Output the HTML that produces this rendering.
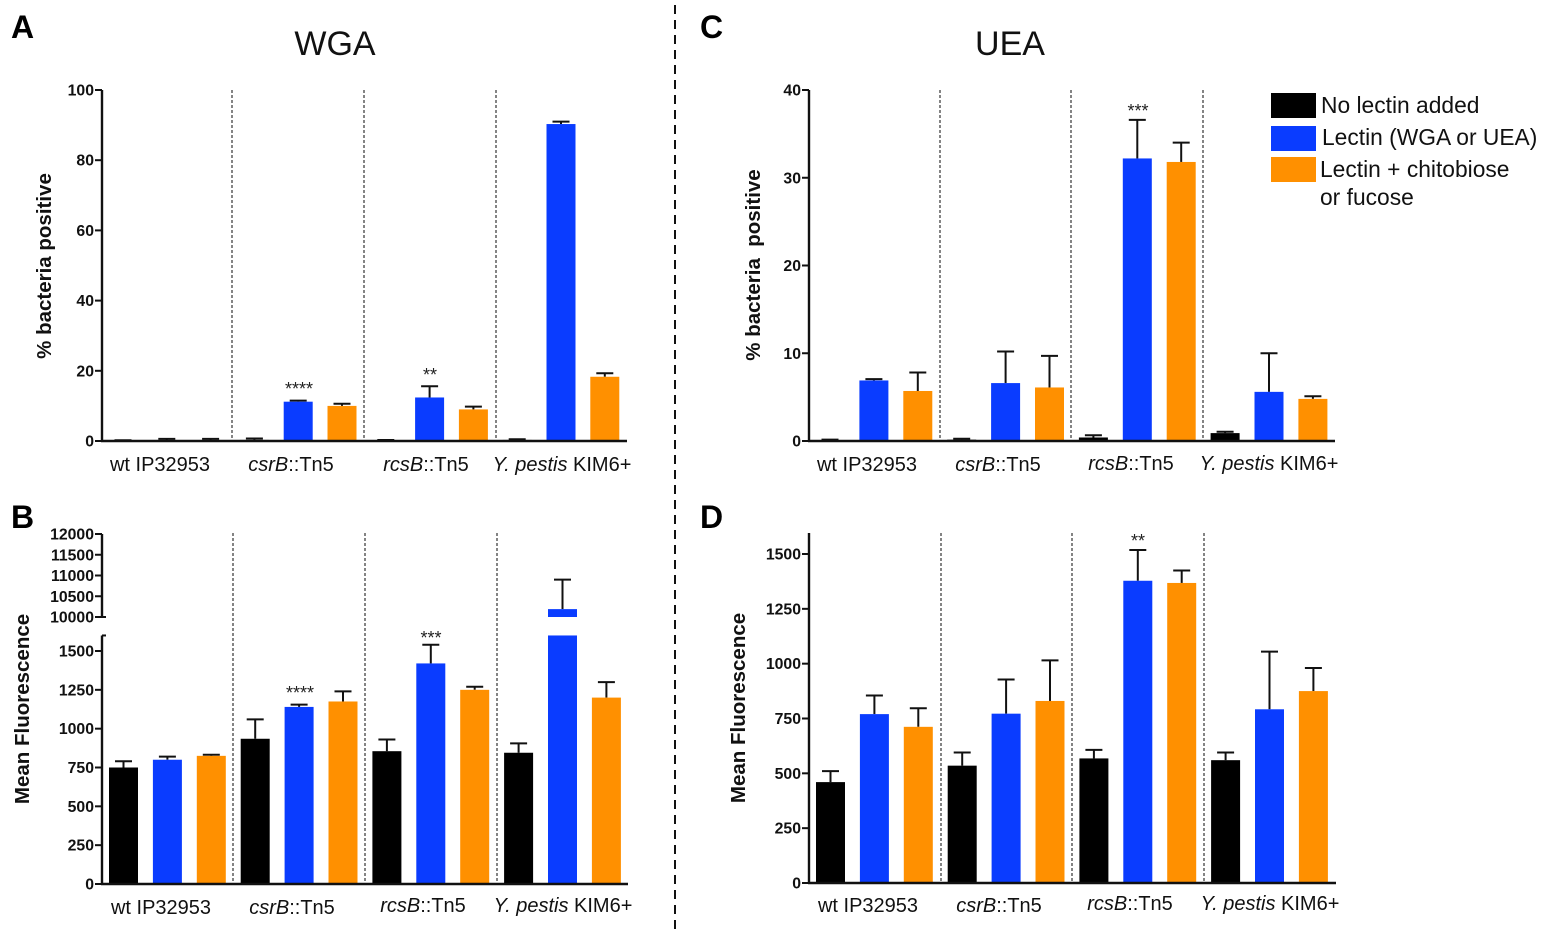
<!DOCTYPE html>
<html lang="en">
<head>
<meta charset="utf-8">
<title>Lectin binding charts</title>
<style>
html,body{margin:0;padding:0;background:#fff;}
svg{display:block;font-family:"Liberation Sans",Arial,sans-serif;}
.tick{font-size:15.8px;font-weight:bold;text-anchor:end;fill:#111;}
.group{font-size:20px;text-anchor:middle;fill:#111;}
.ytitle{font-size:20.5px;font-weight:bold;text-anchor:middle;fill:#111;}
.letter{font-size:32px;font-weight:bold;fill:#000;}
.title{font-size:34px;text-anchor:middle;fill:#111;}
.star{font-size:18px;text-anchor:middle;fill:#222;}
.legend{font-size:22.8px;fill:#111;}
</style>
</head>
<body>
<svg id="fig" xmlns="http://www.w3.org/2000/svg" width="1547" height="935" viewBox="0 0 1547 935">
  <rect width="1547" height="935" fill="#fff"/>
  <line x1="675" y1="5" x2="675" y2="930" stroke="#111" stroke-width="2" stroke-dasharray="9 6"/>

  <text class="letter" x="11" y="38">A</text>
  <text class="letter" x="11" y="528">B</text>
  <text class="letter" x="700" y="38">C</text>
  <text class="letter" x="700" y="528">D</text>
  <text class="title" x="335" y="55">WGA</text>
  <text class="title" x="1010" y="55">UEA</text>

  <text class="ytitle" transform="translate(51,266) rotate(-90)">% bacteria positive</text>
  <text class="ytitle" transform="translate(29,709) rotate(-90)">Mean Fluorescence</text>
  <text class="ytitle" xml:space="preserve" transform="translate(760,265) rotate(-90)">% bacteria  positive</text>
  <text class="ytitle" transform="translate(745,708) rotate(-90)">Mean Fluorescence</text>

  <g>
    <text class="group" x="160" y="471">wt IP32953</text>
    <text class="group" x="291" y="471"><tspan font-style="italic">csrB</tspan>::Tn5</text>
    <text class="group" x="426" y="471"><tspan font-style="italic">rcsB</tspan>::Tn5</text>
    <text class="group" x="562" y="471"><tspan font-style="italic">Y. pestis</tspan> KIM6+</text>
  </g>
  <g>
    <text class="group" x="161" y="914">wt IP32953</text>
    <text class="group" x="292" y="914"><tspan font-style="italic">csrB</tspan>::Tn5</text>
    <text class="group" x="423" y="912"><tspan font-style="italic">rcsB</tspan>::Tn5</text>
    <text class="group" x="563" y="912"><tspan font-style="italic">Y. pestis</tspan> KIM6+</text>
  </g>
  <g>
    <text class="group" x="867" y="471">wt IP32953</text>
    <text class="group" x="998" y="471"><tspan font-style="italic">csrB</tspan>::Tn5</text>
    <text class="group" x="1131" y="470"><tspan font-style="italic">rcsB</tspan>::Tn5</text>
    <text class="group" x="1269" y="470"><tspan font-style="italic">Y. pestis</tspan> KIM6+</text>
  </g>
  <g>
    <text class="group" x="868" y="912">wt IP32953</text>
    <text class="group" x="999" y="912"><tspan font-style="italic">csrB</tspan>::Tn5</text>
    <text class="group" x="1130" y="910"><tspan font-style="italic">rcsB</tspan>::Tn5</text>
    <text class="group" x="1270" y="910"><tspan font-style="italic">Y. pestis</tspan> KIM6+</text>
  </g>

  <text class="star" x="299" y="395">****</text>
  <text class="star" x="430" y="381">**</text>
  <text class="star" x="300" y="699">****</text>
  <text class="star" x="431" y="644">***</text>
  <text class="star" x="1138" y="117">***</text>
  <text class="star" x="1138" y="547">**</text>

  <g>
    <rect x="1271" y="93" width="45" height="25" fill="#000"/>
    <rect x="1271" y="126" width="45" height="25" fill="#0a3cff"/>
    <rect x="1271" y="157" width="45" height="25" fill="#ff9000"/>
    <text class="legend" x="1321" y="113">No lectin added</text>
    <text class="legend" x="1322" y="145">Lectin (WGA or UEA)</text>
    <text class="legend" x="1320" y="177">Lectin + chitobiose</text>
    <text class="legend" x="1320" y="205">or fucose</text>
  </g>
</svg>
<script>
var seriesColors = ['#000000', '#0a3cff', '#ff9000'];

var valuesA = [0.1, 0.2, 0.2, 0.3, 11.2, 10, 0.2, 12.4, 9, 0.3, 90.3, 18.3];
var errorsA = [0.2, 0.6, 0.6, 0.7, 11.5, 10.6, 0.3, 15.6, 9.8, 0.5, 91, 19.3];
var ticksA = [0, 20, 40, 60, 80, 100];

var valuesB = [750, 800, 825, 935, 1140, 1175, 855, 1420, 1250, 845, 10190, 1200];
var errorsB = [790, 820, 832, 1060, 1155, 1240, 930, 1540, 1270, 905, 10900, 1300];
var ticksBLow = [0, 250, 500, 750, 1000, 1250, 1500];
var ticksBHigh = [10000, 10500, 11000, 11500, 12000];

var valuesC = [0.1, 6.9, 5.7, 0.15, 6.6, 6.1, 0.4, 32.2, 31.8, 0.9, 5.6, 4.8];
var errorsC = [0.15, 7.05, 7.8, 0.25, 10.2, 9.7, 0.65, 36.6, 34, 1.05, 10, 5.1];
var ticksC = [0, 10, 20, 30, 40];

var valuesD = [460, 770, 712, 535, 772, 830, 568, 1378, 1368, 560, 792, 875];
var errorsD = [510, 855, 797, 595, 928, 1015, 607, 1518, 1425, 595, 1055, 980];
var ticksD = [0, 250, 500, 750, 1000, 1250, 1500];

var svg = document.getElementById('fig');
var NS = 'http://www.w3.org/2000/svg';

function mk(tag, attrs, parent) {
  var el = document.createElementNS(NS, tag);
  for (var k in attrs) el.setAttribute(k, attrs[k]);
  (parent || svg).appendChild(el);
  return el;
}

function hline(x1, x2, y, g, w) {
  return mk('line', {x1: x1, x2: x2, y1: y, y2: y, stroke: '#111', 'stroke-width': w || 2}, g);
}
function vline(x, y1, y2, g, w) {
  return mk('line', {x1: x, x2: x, y1: y1, y2: y2, stroke: '#111', 'stroke-width': w || 2}, g);
}

function drawBars(p) {
  var g = mk('g', {});
  
  
  p.values.forEach(function (v, i) {
    var cx = p.xAt(i);
    var color = seriesColors[i % 3];
    var top = p.y(v);
    var errTop = p.y(p.errors[i]);
    var err = vline(cx, errTop, top, g);
    
    
    var cap = hline(cx - 8.5, cx + 8.5, errTop, g);
    
    
    if (p.breakAt && v >= p.breakAt.high) {
      var upper = mk('rect', {x: cx - 14.5, y: top, width: 29, height: Math.max(p.y(p.breakAt.high) - top, 0), fill: color}, g);
      
      
      top = p.y(p.breakAt.low);
    }
    var bar = mk('rect', {x: cx - 14.5, y: top, width: 29, height: Math.max(p.y0 - top, 0), fill: color}, g);
    
    
  });
}

function drawSeparators(p) {
  p.separators.forEach(function (x, i) {
    var s = mk('line', {x1: x, x2: x, y1: p.top, y2: p.y0, stroke: '#333', 'stroke-width': 1.2, 'stroke-dasharray': '3 2'});
    
    
  });
}

function drawTicks(ticks, y, axisX, id, g) {
  ticks.forEach(function (t) {
    var yy = y(t);
    var tk = hline(axisX - 7, axisX, yy, g);
    
    
    var lab = mk('text', {x: axisX - 8, y: yy + 5.5, 'class': 'tick'}, g);
    lab.textContent = t;
    
    
  });
}

function drawAxis(p) {
  var g = mk('g', {});
  
  
  var xa = hline(p.axisX - 1, p.xEnd, p.y0, g, 2.4);
  
  
  var ya = vline(p.axisX, p.top, p.y0 + 1, g, 2.4);
  
  
  drawTicks(p.ticks, p.y, p.axisX, p.id, g);
}

function lin(y0, yTop, max) {
  return function (v) { return y0 - v / max * (y0 - yTop); };
}
function xFn(start, step) {
  return function (i) { return start + i * step; };
}

/* Panel A */
var pA = {id: 'a', values: valuesA, errors: errorsA, ticks: ticksA, y0: 441, top: 90, axisX: 102, xEnd: 627,
  y: lin(441, 90, 100), xAt: xFn(123, 43.8), separators: [232, 364, 496]};
drawSeparators(pA); drawBars(pA); drawAxis(pA);

/* Panel C */
var pC = {id: 'c', values: valuesC, errors: errorsC, ticks: ticksC, y0: 441, top: 90, axisX: 809, xEnd: 1335,
  y: lin(441, 90, 40), xAt: xFn(830, 43.9), separators: [940, 1071, 1203]};
drawSeparators(pC); drawBars(pC); drawAxis(pC);

/* Panel D */
var pD = {id: 'd', values: valuesD, errors: errorsD, ticks: ticksD, y0: 883, top: 533, axisX: 809, xEnd: 1336,
  y: lin(883, 554, 1500), xAt: xFn(830.5, 43.9), separators: [941, 1072, 1204]};
drawSeparators(pD); drawBars(pD); drawAxis(pD);

/* Panel B: broken y axis */
var yBLow = lin(884, 651, 1500);
var yBHigh = function (v) { return 617 - (v - 10000) * 83 / 2000; };
var yB = function (v) { return v >= 10000 ? yBHigh(v) : yBLow(Math.min(v, 1600)); };
var pB = {id: 'b', values: valuesB, errors: errorsB, y0: 884, top: 533, axisX: 102, y: yB,
  xAt: xFn(123.5, 43.9), separators: [233, 365, 497], breakAt: {high: 10000, low: 1600}};
drawSeparators(pB); drawBars(pB);
var gB = mk('g', {});


var xaB = hline(101, 628, 884, gB, 2.4);


var yaLow = vline(102, yBLow(1600), 885, gB, 2.4);


var yaHigh = vline(102, yBHigh(12000), yBHigh(10000), gB, 2.4);


var capLow = hline(102, 106, yBLow(1600), gB);


var capHigh = hline(102, 106, yBHigh(10000), gB);


drawTicks(ticksBLow, yBLow, 102, 'b', gB);
drawTicks(ticksBHigh, yBHigh, 102, 'b', gB);
</script>
</body>
</html>
